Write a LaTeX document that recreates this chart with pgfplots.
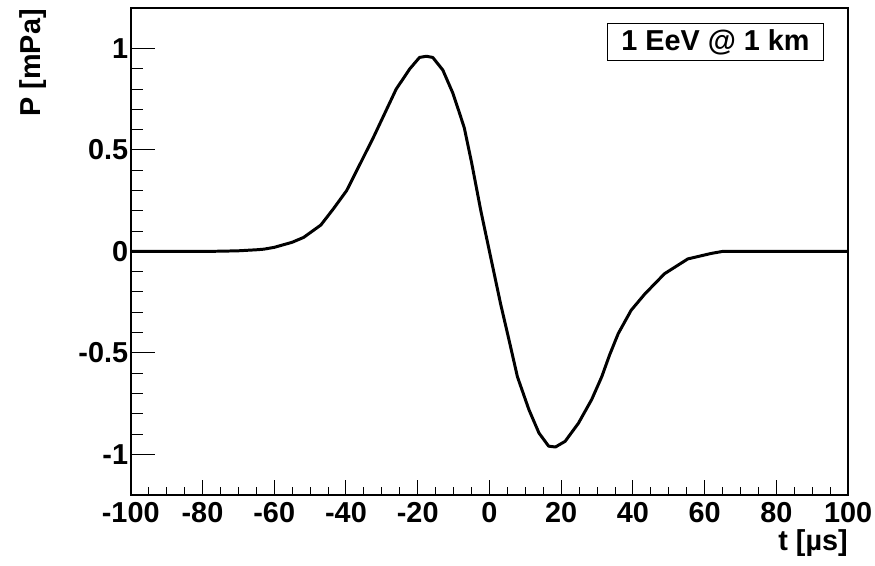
\documentclass[border=0pt]{standalone}
\usepackage{pgfplots}
\pgfplotsset{compat=1.18}
\usepackage{fontspec}
\setmainfont{Liberation Sans}
\pgfplotstableread{
t P
-100 0
-90 0
-80 0
-75 0.001
-70 0.003
-65 0.008
-62.9 0.011
-60 0.02
-55 0.045
-51.8 0.069
-47 0.13
-43.5 0.21
-39.8 0.30
-36.1 0.43
-32.4 0.56
-29.6 0.665
-26.0 0.80
-22.2 0.90
-19.5 0.956
-17.6 0.962
-15.8 0.956
-13.0 0.894
-10.2 0.78
-8.5 0.69
-7.0 0.608
-5.0 0.44
-2.4 0.20
0 0.0
3.1 -0.258
5.5 -0.44
7.8 -0.618
11.0 -0.78
13.8 -0.895
16.5 -0.96
18.4 -0.964
21.1 -0.936
24.8 -0.847
28.5 -0.73
31.3 -0.618
33.5 -0.51
35.9 -0.405
39.5 -0.29
43.3 -0.21
48.8 -0.11
55.3 -0.037
61.8 -0.01
65 0
70 0
80 0
90 0
100 0
}\pulse
\begin{document}
\newcommand{\lf}{\fontsize{14.5}{17}\selectfont\bfseries}
\begin{tikzpicture}
\path[use as bounding box] (-63pt,-35.5pt) rectangle (374.5pt,249pt);
% axis with y ticks
\begin{axis}[
  at={(0pt,0pt)}, anchor=south west,
  scale only axis, width=361pt, height=245pt,
  xmin=-100, xmax=100, ymin=-1.2, ymax=1.2,
  axis line style={line width=1pt},
  xtick=\empty,
  ytick={-1,-0.5,0,0.5,1},
  yticklabels={-1,-0.5,0,0.5,1},
  minor y tick num=4,
  ytick pos=left,
  tick align=inside,
  major tick length=12pt, minor tick length=6pt,
  tick style={line width=0.5pt, black},
  yticklabel style={font=\lf, xshift=2.2pt},
]
\end{axis}
% main axis with x ticks and data
\begin{axis}[
  at={(0pt,0pt)}, anchor=south west,
  scale only axis, width=361pt, height=245pt,
  xmin=-100, xmax=100, ymin=-1.2, ymax=1.2,
  clip=false,
  axis line style={line width=1pt},
  ytick=\empty,
  xtick={-100,-80,...,100},
  xticklabels={-100,-80,-60,-40,-20,0,20,40,60,80,100},
  minor x tick num=3,
  xtick pos=bottom,
  tick align=inside,
  major tick length=7.5pt, minor tick length=4pt,
  tick style={line width=0.5pt, black},
  xticklabel style={font=\lf},
]
\addplot[black, line width=1.5pt, line join=round] table[x=t, y=P] {\pulse};
\node[rotate=90, anchor=east, inner sep=0pt, font=\lf] at (axis cs:-127.1,1.196) {P [mPa]};
\node[anchor=east, inner sep=0pt, font=\lf] at (axis cs:100,-1.436) {t [µs]};
\node[draw=black, line width=0.6pt, fill=white, minimum width=108.5pt, minimum height=18.5pt, inner sep=0pt, font=\lf] at (axis cs:63.0,1.032) {1 EeV @ 1 km};
\end{axis}
\end{tikzpicture}
\end{document}
